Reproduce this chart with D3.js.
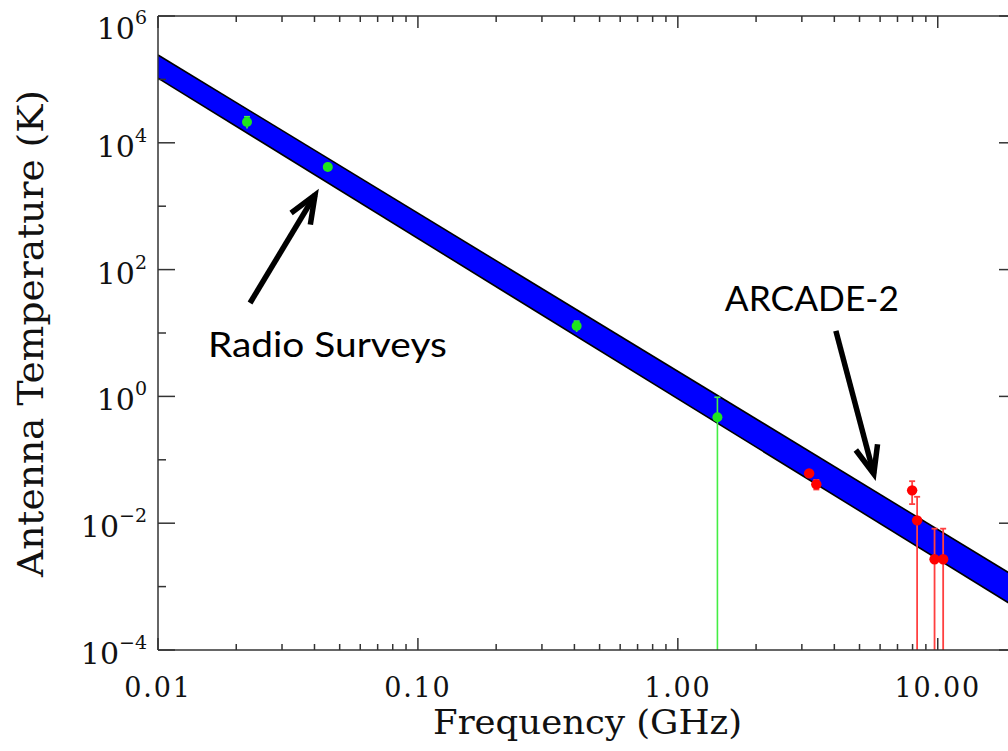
<!DOCTYPE html>
<html>
<head>
<meta charset="utf-8">
<script src="https://cdn.jsdelivr.net/npm/d3@7"></script>
<style>
  html, body { margin: 0; padding: 0; background: #fff; }
  svg { display: block; }
</style>
</head>
<body>
<svg id="chart" width="1008" height="751"></svg>
<script>
// ---------------- data ----------------
// Synchrotron band (upper and lower edge), power laws in K vs GHz
const bandFreq  = [0.01, 20];
const bandUpper = [2.43e5, 1.41e-3];
const bandLower = [1.05e5, 4.7e-4];

// Radio surveys (green)
const radioFreq = [0.022, 0.045, 0.408, 1.42];
const radioTemp = [2.13e4, 4150, 12.9, 0.47];
const radioErr  = [4500, 400, 2.5, 0.5];

// ARCADE-2 (red)
const arcadeFreq = [3.20, 3.41, 7.97, 8.33, 9.72, 10.49];
const arcadeTemp = [0.061, 0.041, 0.033, 0.0111, 0.0027, 0.0027];
const arcadeErr  = [0.004, 0.007, 0.013, 0.015, 0.0055, 0.0055];

// Axis ticks / labels
const xTickValues = [0.01, 0.1, 1, 10];
const xTickLabels = ["0.01", "0.10", "1.00", "10.00"];
const yTickExponents = [-4, -2, 0, 2, 4, 6];

// Annotations (positions in data units: GHz, K)
const annotations = [
  { text: "Radio Surveys", tx: 0.01556, tT: 4.23, len: 239,
    from: [0.0226, 29.7], to: [0.0402, 1503] },
  { text: "ARCADE-2", tx: 1.517, tT: 22.5, len: 174,
    from: [4.055, 10.8], to: [5.675, 0.0597] }
];

// ---------------- layout ----------------
const L = 158, R = 1016, T = 16, B = 650;

const svg = d3.select("#chart");
const x = d3.scaleLog().domain([0.01, 20]).range([L, R]);
const y = d3.scaleLog().domain([1e-4, 1e6]).range([B, T]);

svg.append("defs").append("clipPath").attr("id", "plotclip")
  .append("rect").attr("x", L).attr("y", T).attr("width", R - L).attr("height", B - T);

const plot = svg.append("g").attr("clip-path", "url(#plotclip)");

// band
const bandPts = bandFreq.map((f, i) => [x(f), y(bandUpper[i])])
  .concat(bandFreq.map((f, i) => [x(f), y(bandLower[i])]).reverse());
plot.append("path")
  .attr("d", "M" + bandPts.map(p => p.join(",")).join("L") + "Z")
  .attr("fill", "#0000ff")
  .attr("stroke", "none");
const edge = d3.line().x(d => x(d[0])).y(d => y(d[1]));
plot.append("path").attr("d", edge(bandFreq.map((f, i) => [f, bandUpper[i]])))
  .attr("fill", "none").attr("stroke", "#000").attr("stroke-width", 1.6);
plot.append("path").attr("d", edge(bandFreq.map((f, i) => [f, bandLower[i]])))
  .attr("fill", "none").attr("stroke", "#000").attr("stroke-width", 1.6);

// error bars + points
function series(freq, temp, err, lineColor, dotColor, r, lowCaps, lw) {
  const g = plot.append("g");
  freq.forEach((f, i) => {
    const hi = temp[i] + err[i];
    const loV = temp[i] - err[i];
    const yHi = y(hi);
    const yLo = loV > 0 ? y(loV) : B + 20;
    const cx = x(f);
    g.append("line").attr("x1", cx).attr("x2", cx).attr("y1", yHi).attr("y2", yLo)
      .attr("stroke", lineColor).attr("stroke-width", lw);
    g.append("line").attr("x1", cx - 3).attr("x2", cx + 3).attr("y1", yHi).attr("y2", yHi)
      .attr("stroke", lineColor).attr("stroke-width", lw);
    if (lowCaps && loV > 0) {
      g.append("line").attr("x1", cx - 3).attr("x2", cx + 3).attr("y1", yLo).attr("y2", yLo)
        .attr("stroke", lineColor).attr("stroke-width", lw);
    }
  });
  freq.forEach((f, i) => {
    g.append("circle").attr("cx", x(f)).attr("cy", y(temp[i])).attr("r", r)
      .attr("fill", dotColor);
  });
}
series(radioFreq, radioTemp, radioErr, "#44ee44", "#1ee61e", 5, false, 1.6);
series(arcadeFreq, arcadeTemp, arcadeErr, "#ff4040", "#ff0000", 5.2, true, 1.8);

// ---------------- axes / frame ----------------
const axisColor = "#333";
const frame = svg.append("g").attr("stroke", axisColor).attr("stroke-width", 1.5).attr("fill", "none");
frame.append("line").attr("x1", L).attr("x2", R).attr("y1", B).attr("y2", B);
frame.append("line").attr("x1", L).attr("x2", R).attr("y1", T).attr("y2", T);
frame.append("line").attr("x1", L).attr("x2", L).attr("y1", T).attr("y2", B);
frame.append("line").attr("x1", R).attr("x2", R).attr("y1", T).attr("y2", B);

// x ticks (bottom and top, inward)
x.ticks().forEach(v => {
  const e = Math.log10(v);
  const major = Math.abs(e - Math.round(e)) < 1e-9;
  const len = major ? 12 : 6;
  const px = x(v);
  frame.append("line").attr("x1", px).attr("x2", px).attr("y1", B).attr("y2", B - len);
  frame.append("line").attr("x1", px).attr("x2", px).attr("y1", T).attr("y2", T + len);
});
// y ticks (left and right, inward)
d3.range(-4, 7).forEach(e => {
  const major = e % 2 === 0;
  const len = major ? 17 : 8;
  const py = y(Math.pow(10, e));
  frame.append("line").attr("x1", L).attr("x2", L + len).attr("y1", py).attr("y2", py);
  frame.append("line").attr("x1", R).attr("x2", R - len).attr("y1", py).attr("y2", py);
});

const serif = "'DejaVu Serif', 'Liberation Serif', serif";

// x tick labels
xTickValues.forEach((v, i) => {
  svg.append("text").attr("x", x(v)).attr("y", 697)
    .attr("text-anchor", "middle")
    .attr("font-family", serif).attr("font-size", 27)
    .attr("letter-spacing", 1.8)
    .attr("fill", "#111")
    .text(xTickLabels[i]);
});

// y tick labels
yTickExponents.forEach(e => {
  const base = Math.max(y(Math.pow(10, e)) + 14, 39);
  const t = svg.append("text").attr("x", 147).attr("y", base)
    .attr("text-anchor", "end")
    .attr("font-family", serif).attr("fill", "#111");
  t.append("tspan").attr("font-size", 30).text("10");
  t.append("tspan").attr("font-size", 19).attr("dy", -15)
    .text(e < 0 ? "\u2212" + Math.abs(e) : String(e));
});

// axis titles
svg.append("text").attr("x", 587.5).attr("y", 734)
  .attr("text-anchor", "middle")
  .attr("font-family", serif).attr("font-size", 34)
  .attr("textLength", 309).attr("lengthAdjust", "spacingAndGlyphs")
  .attr("fill", "#111")
  .text("Frequency (GHz)");

svg.append("text")
  .attr("transform", "translate(43,333.5) rotate(-90)")
  .attr("text-anchor", "middle")
  .attr("font-family", serif).attr("font-size", 35)
  .attr("textLength", 487).attr("lengthAdjust", "spacingAndGlyphs")
  .attr("fill", "#111")
  .text("Antenna Temperature (K)");

// ---------------- annotations ----------------
const sans = "Lato, 'Open Sans', 'Noto Sans', sans-serif";
annotations.forEach(a => {
  svg.append("text").attr("x", x(a.tx)).attr("y", y(a.tT))
    .attr("font-family", sans).attr("font-size", 35)
    .attr("textLength", a.len).attr("lengthAdjust", "spacingAndGlyphs")
    .attr("fill", "#000")
    .text(a.text);
  const x0 = x(a.from[0]), y0 = y(a.from[1]);
  const x1 = x(a.to[0]), y1 = y(a.to[1]);
  const ang = Math.atan2(y0 - y1, x0 - x1);
  const wl = 30, spread = 22 * Math.PI / 180;
  const w1 = [x1 + wl * Math.cos(ang + spread), y1 + wl * Math.sin(ang + spread)];
  const w2 = [x1 + wl * Math.cos(ang - spread), y1 + wl * Math.sin(ang - spread)];
  svg.append("line").attr("x1", x0).attr("y1", y0).attr("x2", x1).attr("y2", y1)
    .attr("stroke", "#000").attr("stroke-width", 5.5);
  svg.append("path")
    .attr("d", `M${w1[0]},${w1[1]}L${x1},${y1}L${w2[0]},${w2[1]}`)
    .attr("fill", "none").attr("stroke", "#000").attr("stroke-width", 5.5)
    .attr("stroke-linejoin", "miter").attr("stroke-miterlimit", 10);
});
</script>
</body>
</html>
